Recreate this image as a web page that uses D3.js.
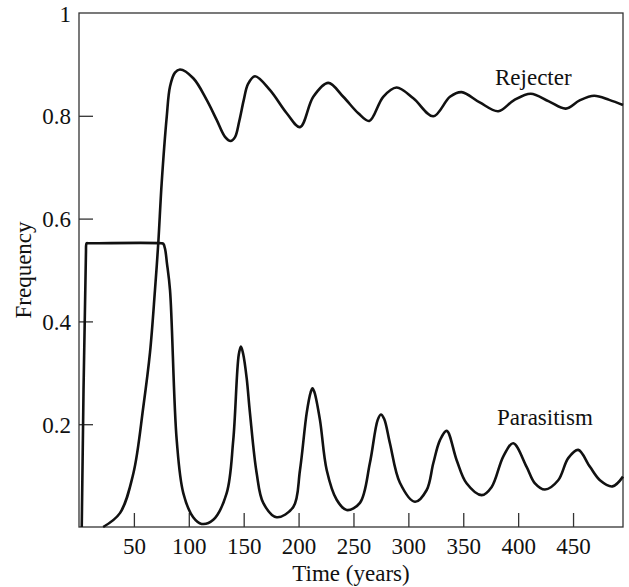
<!DOCTYPE html>
<html>
<head>
    <meta charset="utf-8">
    <title>Rejecter and Parasitism Frequency over Time</title>
    <style>
        body { margin: 0; background: #fff; }
        text { font-family: 'Liberation Serif', serif; font-size: 23px; fill: #111; }
        .frame { fill: none; stroke: #333; stroke-width: 1.3; }
        .tick line { stroke: #333; stroke-width: 1.3; }
        .curve { fill: none; stroke: #111; stroke-width: 2.6; stroke-linejoin: round; }
    </style>
</head>
<body>
<div id="chart"></div>
<script src="https://cdn.jsdelivr.net/npm/d3@7"></script>
<script>
    (function(d3) {
        'use strict';
        // values (time in years, frequency 0..1)
        var parasitismTime = [2.5, 6.3, 7, 8.5, 75, 76.8, 78.5, 80, 82.9, 89, 95, 104, 111.7, 122.3, 134.5, 140.5, 145.5, 147.5,
            149.5, 152.7, 155.7, 161.8, 167.8, 180, 195.2, 201.3, 207.4, 211, 212.7, 214.5, 219.5, 225.6, 234.7, 243.8,
            255.9, 265, 272, 275, 278, 283.2, 292.3, 306, 316.7, 322.7, 328.8, 334.9, 344, 353, 366.8, 375.9,
            386.4, 395.5, 407.7, 415.3, 424.4, 436.5, 445.6, 454.7, 465.4, 474.5, 485.9, 495.5];
        var parasitismFreq = [0, 0.53, 0.552, 0.552, 0.552, 0.551, 0.54, 0.515, 0.461, 0.169, 0.066, 0.019, 0.006, 0.014, 0.066, 0.169, 0.335, 0.351,
            0.337, 0.29, 0.222, 0.105, 0.047, 0.019, 0.039, 0.111, 0.222, 0.262, 0.27, 0.262, 0.208, 0.111, 0.053, 0.033,
            0.047, 0.125, 0.208, 0.219, 0.21, 0.163, 0.086, 0.049, 0.072, 0.124, 0.169, 0.187, 0.13, 0.085, 0.062, 0.078,
            0.137, 0.163, 0.117, 0.085, 0.073, 0.091, 0.134, 0.150, 0.117, 0.091, 0.079, 0.098];

        var rejecterTime = [22, 37.3, 49.5, 58.6, 64.7, 69.2, 72.2, 75.3, 79.9, 82.9, 87.4, 92, 104.1, 116.3,
            125.4, 133, 138.1, 142, 146, 150, 154, 160.3, 174, 189.2, 201.3, 213.4, 227, 240.7, 254.4, 264.4,
            277.1, 289.3, 304.5, 322.7, 337.9, 348.5, 365, 381.9, 396, 411.5, 428, 443.4, 456, 469.2,
            483, 495.5];
        var rejecterFreq = [0, 0.027, 0.104, 0.234, 0.34, 0.461, 0.552, 0.669, 0.798, 0.857, 0.884, 0.890, 0.873, 0.831,
            0.792, 0.759, 0.751, 0.758, 0.79, 0.83, 0.862, 0.877, 0.850, 0.805, 0.778, 0.837, 0.864, 0.837, 0.805, 0.790,
            0.837, 0.855, 0.834, 0.799, 0.837, 0.846, 0.826, 0.809, 0.83, 0.843, 0.828, 0.814, 0.83, 0.839,
            0.831, 0.821];

        var xTicks = [50, 100, 150, 200, 250, 300, 350, 400, 450];
        var yTicks = [0.2, 0.4, 0.6, 0.8, 1];

        var width = 629;
        var height = 587;
        var margin = { top: 13, right: 6, bottom: 60, left: 79 };

        var x = d3.scaleLinear()
            .domain([0, 495.5])
            .range([margin.left, width - margin.right]);
        var y = d3.scaleLinear()
            .domain([0, 1])
            .range([height - margin.bottom, margin.top]);

        var svg = d3.select('#chart')
            .append('svg')
            .attr('width', width)
            .attr('height', height);

        svg.append('rect')
            .attr('class', 'frame')
            .attr('x', x(0))
            .attr('y', y(1))
            .attr('width', x(495.5) - x(0))
            .attr('height', y(0) - y(1));

        // inward ticks, labels outside
        var xAxis = svg.append('g')
            .attr('transform', 'translate(0,' + y(0) + ')')
            .call(d3.axisBottom(x).tickValues(xTicks).tickSize(-14).tickPadding(27).tickFormat(d3.format('d')));
        xAxis.select('.domain').remove();
        xAxis.selectAll('text').attr('dy', 0);

        var yAxis = svg.append('g')
            .attr('transform', 'translate(' + x(0) + ',0)')
            .call(d3.axisLeft(y).tickValues(yTicks).tickSize(-14).tickFormat(function(d) { return d === 1 ? '1' : d3.format('.1f')(d); }));
        yAxis.select('.domain').remove();
        yAxis.selectAll('text').attr('x', -8).attr('dy', '0.35em');
        yAxis.selectAll('.tick').filter(function(d) { return d === 1; }).select('line').remove();

        var line = d3.line()
            .x(function(d) { return x(d[0]); })
            .y(function(d) { return y(d[1]); })
            .curve(d3.curveCatmullRom.alpha(0.5));

        svg.append('path')
            .attr('class', 'curve')
            .attr('d', line(d3.zip(parasitismTime, parasitismFreq)));

        svg.append('path')
            .attr('class', 'curve')
            .attr('d', line(d3.zip(rejecterTime, rejecterFreq)));

        svg.append('text')
            .attr('x', 495)
            .attr('y', 85)
            .text('Rejecter');

        svg.append('text')
            .attr('x', 497)
            .attr('y', 425)
            .text('Parasitism');

        svg.append('text')
            .attr('x', (x(0) + x(495.5)) / 2)
            .attr('y', 581)
            .attr('text-anchor', 'middle')
            .text('Time (years)');

        svg.append('text')
            .attr('transform', 'translate(31,270) rotate(-90)')
            .attr('text-anchor', 'middle')
            .text('Frequency');
    })(window.d3);
</script>
</body>
</html>
